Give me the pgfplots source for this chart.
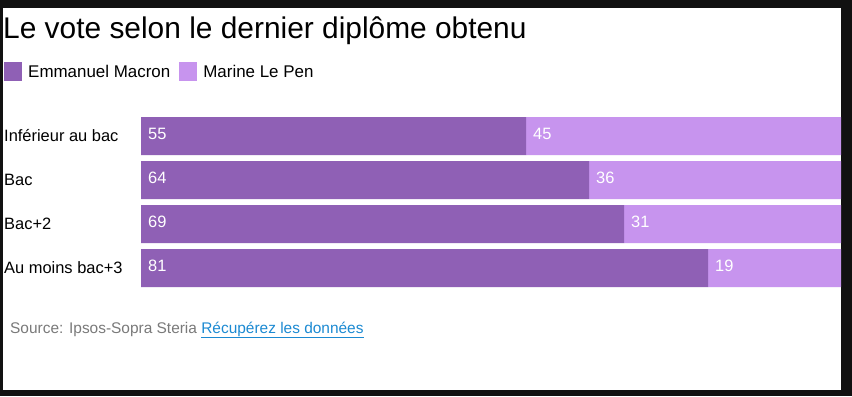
\documentclass[border=0pt]{standalone}
\usepackage{fontspec}
\setmainfont{Liberation Sans}
\usepackage{pgfplots}
\pgfplotsset{compat=1.18}
\definecolor{macron}{HTML}{8F60B5}
\definecolor{lepen}{HTML}{C794EE}
\definecolor{srcgray}{HTML}{7A7A7A}
\definecolor{linkblue}{HTML}{1C8AD2}
\definecolor{frame}{HTML}{111111}
\pgfplotsset{
  geom/.style={
    at={(141bp,106bp)}, anchor=south west,
    scale only axis, width=700bp, height=176bp,
    xmin=0, xmax=100, ymin=-0.5, ymax=3.5, y dir=reverse,
    axis line style={draw=none}, major tick length=0pt,
    xtick=\empty,
  }
}
\begin{document}
\begin{tikzpicture}[x=1bp,y=1bp]
\fill[frame] (0,0) rectangle (852,396);
\fill[white] (3,6) rectangle (841,388);
\node[anchor=base west, inner sep=0pt, font=\fontsize{30}{34}\selectfont] at (3,358) {Le vote selon le dernier diplôme obtenu};
\node[anchor=base west, inner sep=0pt, font=\fontsize{15.5}{18}\selectfont, text=srcgray] at (10,63) {Source: Ipsos-Sopra Steria {\color{linkblue}\underline{Récupérez les données}}};
\begin{axis}[geom,
  xbar stacked, bar width=38bp,
  ytick={0,1,2,3},
  yticklabels={Inférieur au bac,Bac,Bac+2,Au moins bac+3},
  yticklabel style={anchor=west, xshift=-137bp, inner sep=0pt, font=\fontsize{16.5}{19}\selectfont},
  legend columns=2,
  legend style={at={(-0.1957,1.295)}, anchor=north west, draw=none, fill=none,
    inner sep=0pt, font=\fontsize{17}{19}\selectfont,
    nodes={inner sep=0pt},
    /tikz/column 1/.style={column sep=6bp},
    /tikz/column 2/.style={column sep=9bp},
    /tikz/column 3/.style={column sep=6bp}},
  legend image code/.code={\fill[#1] (0bp,-9.5bp) rectangle (18bp,9.5bp);},
]
\addplot[fill=macron, draw=none] coordinates {(55,0) (64,1) (69,2) (81,3)};
\addlegendentry{Emmanuel Macron}
\addplot[fill=lepen, draw=none] coordinates {(45,0) (36,1) (31,2) (19,3)};
\addlegendentry{Marine Le Pen}
\end{axis}
\begin{axis}[geom, ytick=\empty]
\addplot[draw=none, no markers, nodes near coords, point meta=explicit symbolic,
  nodes near coords style={anchor=west, text=white, inner sep=0pt, xshift=7bp, yshift=2bp,
    font=\fontsize{16.5}{19}\selectfont}]
  coordinates {(0,0) [55] (55,0) [45] (0,1) [64] (64,1) [36]
               (0,2) [69] (69,2) [31] (0,3) [81] (81,3) [19]};
\end{axis}
\end{tikzpicture}
\end{document}
